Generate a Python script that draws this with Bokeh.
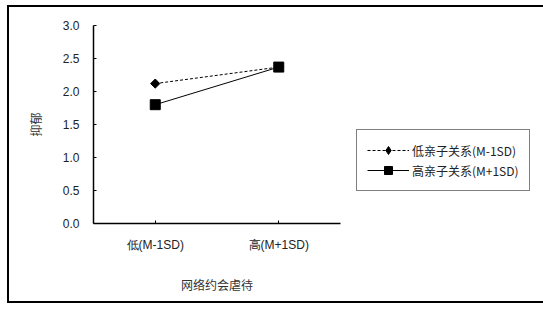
import math
import numpy as np
from bokeh.plotting import figure
from bokeh.models import Legend, LegendItem, FactorRange, CustomJSTickFormatter
from bokeh.embed import file_html
from bokeh.resources import INLINE

categories = ["低(M-1SD)", "高(M+1SD)"]
low_parent = [2.12, 2.37]
high_parent = [1.80, 2.37]
series_names = ["低亲子关系(M-1SD)", "高亲子关系(M+1SD)"]
y_ticks = [0.0, 0.5, 1.0, 1.5, 2.0, 2.5, 3.0]

p = figure(x_range=FactorRange(*categories), y_range=(0, 3.0),
           output_backend="svg", toolbar_location=None,
           frame_width=247, frame_height=198,
           min_border_left=84, min_border_top=18, min_border_right=196, min_border_bottom=78)
p.styles = {"border": "2px solid black", "margin": "5px 0 0 7px"}
p.x_range.range_padding = 0
p.grid.visible = False
p.outline_line_color = None
p.background_fill_color = "white"

yax = p.yaxis[0]
yax.ticker = y_ticks
yax.major_tick_in = 3
yax.major_tick_out = 0
yax.minor_tick_line_color = None
yax.axis_line_color = "black"
yax.axis_line_width = 1.5
yax.major_label_text_font = "Liberation Sans"
yax.major_label_text_font_size = "12px"
yax.major_label_text_color = "#222222"
yax.major_label_standoff = 14
yax.axis_label = "抑郁"
yax.axis_label_text_font = "Noto Sans CJK SC"
yax.axis_label_text_font_size = "12px"
yax.axis_label_text_font_style = "normal"
yax.axis_label_text_color = "#333333"
yax.axis_label_standoff = 16
yax.formatter = CustomJSTickFormatter(code="return tick.toFixed(1);")

xax = p.xaxis[0]
xax.major_tick_in = 3
xax.major_tick_out = 0
xax.axis_line_color = "black"
xax.axis_line_width = 1.5
xax.major_label_text_font = "Liberation Sans"
xax.major_label_text_font_size = "12px"
xax.major_label_text_color = "#222222"
xax.major_label_standoff = 14
xax.axis_label = "网络约会虐待"
xax.axis_label_text_font = "Noto Sans CJK SC"
xax.axis_label_text_font_size = "12px"
xax.axis_label_text_font_style = "normal"
xax.axis_label_text_color = "#333333"
xax.axis_label_standoff = 21

l1 = p.line(categories, low_parent, line_color="black", line_width=1, line_dash="3 2")
m1 = p.scatter(categories, low_parent, marker="square", size=6.5, angle=math.pi / 4, color="black")
# legend key only (not drawn in the plot area)
m1_key = p.scatter(x=[categories[0]], y=np.array([np.nan]), marker="diamond", size=10, color="black")
l2 = p.line(categories, high_parent, line_color="black", line_width=1)
m2 = p.scatter(categories, high_parent, marker="square", size=10, color="black")

legend = Legend(items=[LegendItem(label=series_names[0], renderers=[l1, m1_key]),
                       LegendItem(label=series_names[1], renderers=[l2, m2])],
                location=(16, 32), orientation="vertical",
                border_line_color="black", border_line_width=1,
                label_text_font="Noto Sans CJK SC", label_text_font_size="12px",
                label_text_color="#222222",
                glyph_width=42, glyph_height=20, spacing=0, padding=10,
                label_standoff=3, margin=0)
p.add_layout(legend, "right")

open("out.html", "w").write(file_html(p, INLINE))
